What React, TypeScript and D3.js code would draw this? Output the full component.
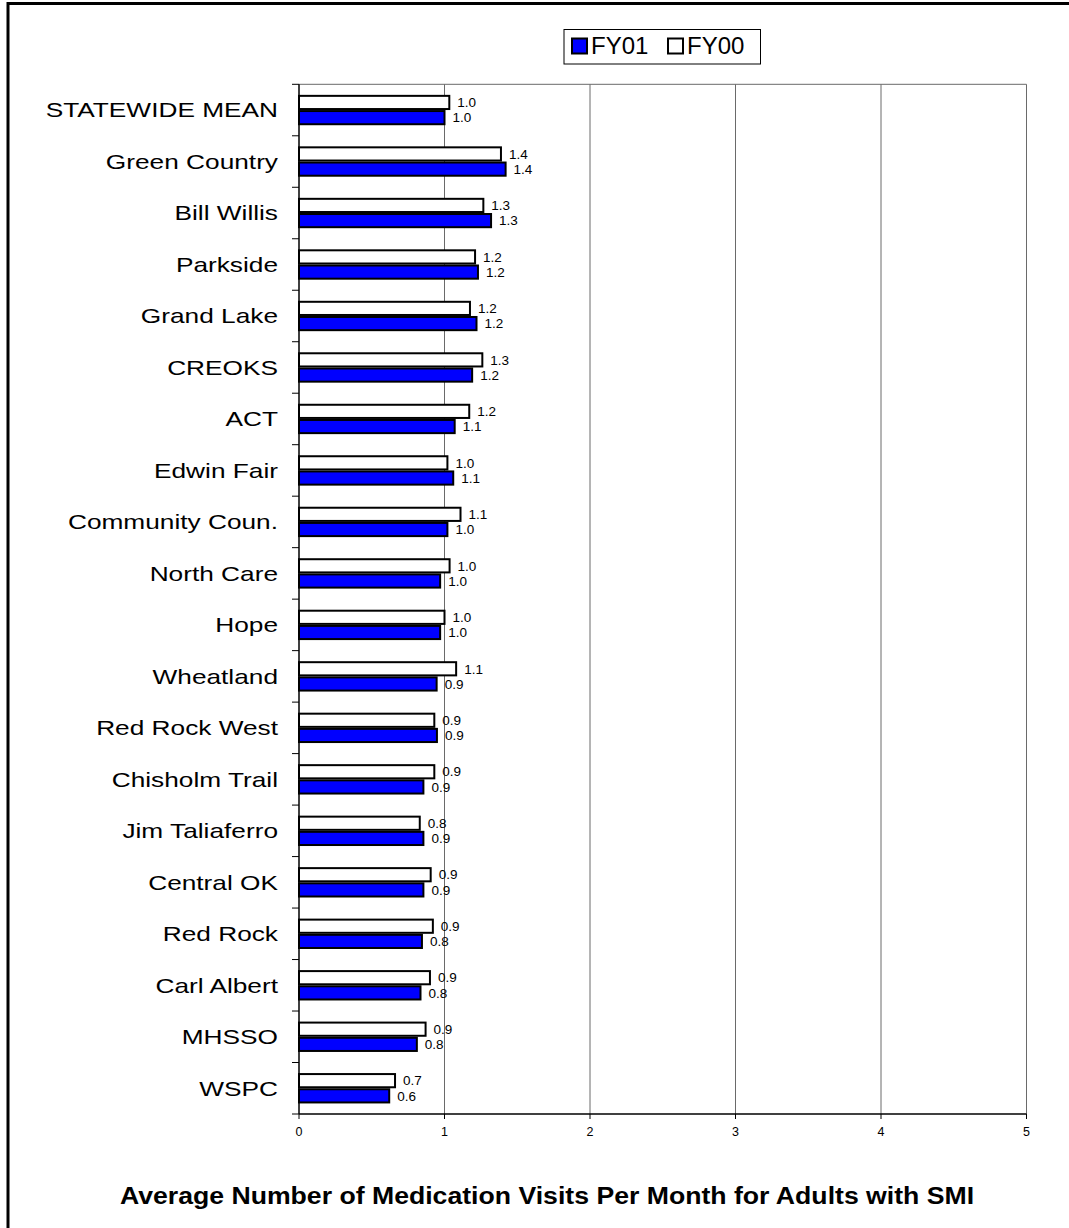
import React from "react";
import * as d3 from "d3";

const categories = [
  "STATEWIDE MEAN", "Green Country", "Bill Willis", "Parkside", "Grand Lake",
  "CREOKS", "ACT", "Edwin Fair", "Community Coun.", "North Care", "Hope",
  "Wheatland", "Red Rock West", "Chisholm Trail", "Jim Taliaferro",
  "Central OK", "Red Rock", "Carl Albert", "MHSSO", "WSPC",
];
const fy01 = [1.0, 1.42, 1.32, 1.23, 1.22, 1.19, 1.07, 1.06, 1.02, 0.97, 0.97, 0.946, 0.948, 0.855, 0.855, 0.855, 0.845, 0.835, 0.81, 0.62];
const fy00 = [1.033, 1.388, 1.267, 1.21, 1.175, 1.26, 1.17, 1.02, 1.11, 1.035, 1.0, 1.08, 0.93, 0.93, 0.83, 0.905, 0.92, 0.9, 0.87, 0.66];
const seriesNames = ["FY00", "FY01"];
const xTicks = [0, 1, 2, 3, 4, 5];
const title = "Average Number of Medication Visits Per Month for Adults with SMI";

const FONT = "'Liberation Sans', Arial, Helvetica, sans-serif";

export default function App() {
  const W = 1069, H = 1228;
  const x0 = 299, x1 = 1026.5, yTop = 84.3, yBot = 1114;
  const x = d3.scaleLinear().domain([0, 5]).range([x0, x1]);
  const y = d3.scaleBand<string>().domain(categories).range([yTop, yBot]).paddingInner(0.41).paddingOuter(0.205);
  const inner = d3.scaleBand<string>().domain(seriesNames).range([0, y.bandwidth()]);
  const step = (yBot - yTop) / categories.length;
  const colors: Record<string, string> = { FY00: "#ffffff", FY01: "#0000ff" };
  const values: Record<string, number[]> = { FY00: fy00, FY01: fy01 };

  return (
    <svg width={W} height={H} style={{ position: "absolute", left: 0, top: 0 }} fontFamily={FONT}>
      <rect x={0} y={0} width={W} height={H} fill="#fff" />
      <rect x={8} y={3.5} width={1200} height={1400} fill="none" stroke="#000" strokeWidth={3} />
      {/* gridlines */}
      {xTicks.filter((t) => t > 0).map((t) => (
        <line key={"g" + t} x1={x(t)} x2={x(t)} y1={yTop} y2={yBot} stroke="#6a6a6a" strokeWidth={1} />
      ))}
      <line x1={x0} x2={x1} y1={yTop} y2={yTop} stroke="#6a6a6a" strokeWidth={1} />
      {/* bars */}
      {categories.map((c, i) =>
        seriesNames.map((s) => {
          const v = values[s][i];
          const by = (y(c) as number) + (inner(s) as number);
          const bh = inner.bandwidth();
          return (
            <g key={c + s}>
              <rect x={x(0)} y={by + 1} width={x(v) - x(0)} height={bh - 2} fill={colors[s]} stroke="#000" strokeWidth={2} />
              <text x={x(v) + 8} y={by + bh / 2} dy="0.35em" fontSize={13.5} fill="#000">
                {v.toFixed(1)}
              </text>
            </g>
          );
        })
      )}
      {/* axes */}
      <line x1={x0} x2={x0} y1={yTop} y2={yBot} stroke="#000" strokeWidth={1.5} />
      <line x1={x0} x2={x1} y1={yBot} y2={yBot} stroke="#000" strokeWidth={1.5} />
      {d3.range(categories.length + 1).map((i) => (
        <line key={"yt" + i} x1={x0 - 7} x2={x0} y1={yTop + i * step} y2={yTop + i * step} stroke="#000" strokeWidth={1} />
      ))}
      {xTicks.map((t) => (
        <g key={"xt" + t}>
          <line x1={x(t)} x2={x(t)} y1={yBot} y2={yBot + 5} stroke="#000" strokeWidth={1} />
          <text x={x(t)} y={yBot + 18} dy="0.35em" textAnchor="middle" fontSize={12.5}>{t}</text>
        </g>
      ))}
      {categories.map((c) => (
        <text
          key={"l" + c}
          transform={`translate(278,${(y(c) as number) + y.bandwidth() / 2}) scale(1.25,1)`}
          dy="0.35em"
          textAnchor="end"
          fontSize={21}
        >
          {c}
        </text>
      ))}
      {/* legend */}
      <rect x={564} y={29.5} width={196.5} height={34.5} fill="#fff" stroke="#000" strokeWidth={1} />
      <rect x={572} y={38.5} width={15} height={15} fill="#0000ff" stroke="#000" strokeWidth={2} />
      <text x={591} y={46} dy="0.35em" fontSize={24}>FY01</text>
      <rect x={668} y={38.5} width={15} height={15} fill="#fff" stroke="#000" strokeWidth={2} />
      <text x={687} y={46} dy="0.35em" fontSize={24}>FY00</text>
      {/* title */}
      <text transform="translate(547,1204) scale(1.11,1)" textAnchor="middle" fontSize={24} fontWeight="bold">{title}</text>
    </svg>
  );
}
